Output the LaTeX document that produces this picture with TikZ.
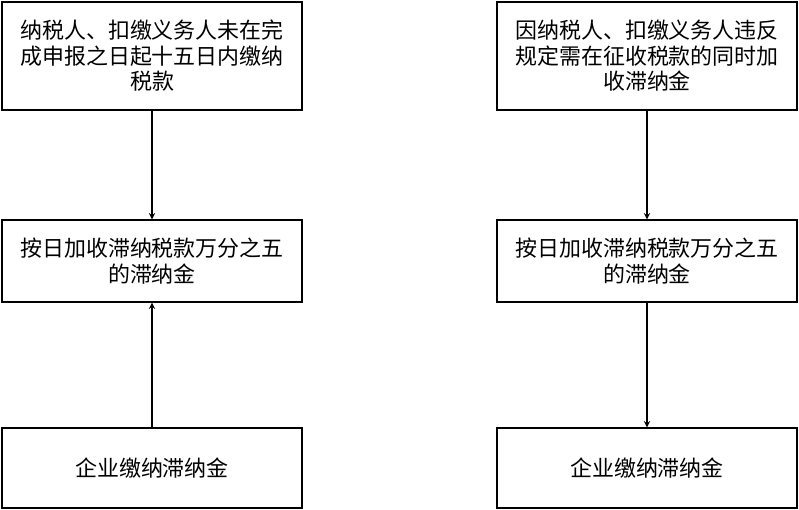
\documentclass[tikz,border=0pt]{standalone}
\usepackage{fontspec}
\newfontfamily\cjk{Noto Sans CJK SC}
\tikzset{
  box/.style={draw,thick,rectangle,minimum width=6cm,align=center,inner sep=0pt,
    font=\cjk\fontsize{12.5}{14.5}\selectfont},
  arr/.style={->,>=stealth,semithick}
}
\begin{document}
\begin{tikzpicture}[x=0.02cm,y=-0.02cm]
  \useasboundingbox (0,0) rectangle (799,510);
  % left column
  \node (L1) at (152,56) [box,minimum height=2.16cm] {纳税人、扣缴义务人未在完\\成申报之日起十五日内缴纳\\税款};
  \node (L2) at (152,261) [box,minimum height=1.64cm] {按日加收滞纳税款万分之五\\的滞纳金};
  \node (L3) at (152,468) [box,minimum height=1.6cm] {企业缴纳滞纳金};
  % right column
  \node (R1) at (647,56) [box,minimum height=2.16cm] {因纳税人、扣缴义务人违反\\规定需在征收税款的同时加\\收滞纳金};
  \node (R2) at (647,261) [box,minimum height=1.64cm] {按日加收滞纳税款万分之五\\的滞纳金};
  \node (R3) at (647,468) [box,minimum height=1.6cm] {企业缴纳滞纳金};
  \draw[arr] (L1) -- (L2);
  \draw[arr] (L3) -- (L2);
  \draw[arr] (R1) -- (R2);
  \draw[arr] (R2) -- (R3);
\end{tikzpicture}
\end{document}
